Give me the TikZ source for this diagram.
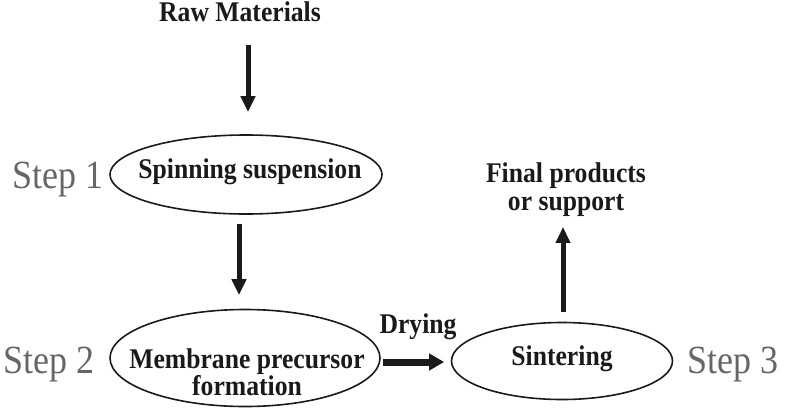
\documentclass[tikz,border=0pt]{standalone}
\usepackage{fontspec}
\setmainfont{Liberation Serif}[FakeStretch=0.9]
\usetikzlibrary{shapes.geometric,arrows.meta}
\definecolor{stepgray}{HTML}{666666}
\definecolor{ink}{HTML}{1A1A1A}
\tikzset{
  boldtxt/.style={font=\fontsize{28.5}{28}\selectfont\bfseries, text=ink, inner sep=3.33pt},
  steplbl/.style={font=\fontsize{40}{40}\selectfont, text=stepgray, anchor=base west, inner sep=0pt},
  oval/.style={ellipse, draw=ink, line width=1.6pt, inner sep=0pt},
  thickarr/.style={draw=ink, line width=5pt, -{Triangle[width=14pt,length=16pt]}},
  dryarr/.style={draw=ink, line width=7pt, -{Triangle[width=16pt,length=15pt]}}
}
\begin{document}
\begin{tikzpicture}[x=1pt,y=-1pt]
\useasboundingbox (0,0) rectangle (789,410);
% text
\node[boldtxt, anchor=base] (raw) at (240,21) {Raw Materials};
\node[oval, minimum width=272pt, minimum height=79pt] (s1) at (246,174.5) {};
\node[boldtxt, anchor=base] (t1) at (250,178) {Spinning suspension};
\node[oval, minimum width=270pt, minimum height=97pt] (s2) at (245,358) {};
\node[boldtxt, anchor=base] (t2a) at (247,368) {Membrane precursor};
\node[boldtxt, anchor=base] (t2b) at (247,395) {formation};
\node[oval, minimum width=221pt, minimum height=77pt] (s3) at (562,361) {};
\node[boldtxt, anchor=base] (t3) at (562,365) {Sintering};
\node[boldtxt, anchor=base] (dry) at (418,333) {Drying};
\node[boldtxt, align=center] (fin) at (566,190) {Final products\\or support};
\node[steplbl] (step1) at (12,188) {Step 1};
\node[steplbl] (step2) at (3,373) {Step 2};
\node[steplbl] (step3) at (687,373) {Step 3};
% arrows
\draw[thickarr, shorten <=20.5pt, shorten >=22pt] ([xshift=8pt]raw.south) -- ([xshift=2pt]s1.north);
\draw[thickarr, shorten <=9pt, shorten >=13.5pt] ([xshift=-7pt]s1.south) -- ([xshift=-7pt]s1.south |- s2.north);
\draw[dryarr, shorten <=2pt, shorten >=6.5pt] ([yshift=-4pt]s2.east) -- ([yshift=-4pt]s2.east -| s3.west);
\draw[thickarr, shorten <=9.5pt, shorten >=6.5pt] ([xshift=1pt]s3.north) -- ([xshift=1pt]s3.north |- fin.south);
\end{tikzpicture}
\end{document}
